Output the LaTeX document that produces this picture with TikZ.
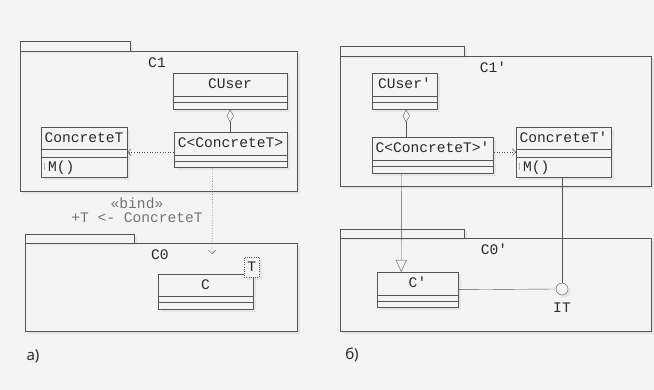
\documentclass[tikz,border=0pt]{standalone}
\usepackage{fontspec}
\setmainfont{Noto Sans}
\setmonofont{Liberation Mono}
\usetikzlibrary{arrows.meta,shadows,positioning}
\definecolor{bg}{HTML}{F4F4F4}
\definecolor{ln}{HTML}{555555}
\definecolor{tx}{HTML}{2A2A2A}
\tikzset{
  shd/.style={drop shadow={shadow xshift=2.5pt,shadow yshift=-2.5pt,opacity=0.12}},
  pkg/.style={draw=ln,fill=bg,shd},
  pkgbox/.style={pkg,inner sep=0pt,anchor=north west},
  cls/.style={draw=ln,fill=bg,shd,inner sep=0pt,anchor=north west},
  lbl/.style={font=\fontsize{14.6}{16}\selectfont\ttfamily,text=tx,inner sep=0pt,text height=8.4pt,text depth=0pt},
  note/.style={lbl,text=black!55},
  dep/.style={draw=ln,dash pattern=on 1pt off 1.6pt,-{Straight Barb[length=3.5pt,width=7pt]}},
  agg/.style={draw=ln,{Diamond[open,fill=bg,length=13pt,width=7pt]}-},
  gen/.style={draw=ln,-{Triangle[open,fill=bg,length=12pt,width=11pt]}},
  tag/.style={font=\fontsize{15}{17}\selectfont,text=tx,inner sep=0pt}
}
\newcommand{\umlclass}[9][]{%
  \node[cls,minimum width={#5-#3},minimum height={#6-#4},#1] (#2) at (#3,#4) {};
  \draw[ln] (#3,#7) -- (#5,#7) (#3,#8) -- (#5,#8);
  \node[lbl] (#2-name) at ({(#3+#5)/2},{(#4+#7)/2}) {#9};
}
\begin{document}
\begin{tikzpicture}[x=1pt,y=-1pt]
\useasboundingbox[fill=bg] (0,0) rectangle (654,390);

% a)
\node[pkgbox,minimum width=277,minimum height=140] (p1) at (20,51) {};
\draw[pkg] (p1.north west) rectangle ++(110,-10);
\node[lbl] (p1-name) at (157,63) {C1};
\umlclass{cuser}{173}{73}{287}{109}{96}{102}{CUser}
\umlclass[line width=1pt]{cc}{174}{132}{287}{167}{155}{161}{C<ConcreteT>}
\umlclass{ct}{41}{127}{127}{177}{149}{157}{ConcreteT}
\draw[black!30] (44,163) -- (44,170);
\node[lbl,anchor=west] (ct-op) at (48,167) {M()};
\draw[agg] (cuser.south) -- (cuser.south |- cc.north);
\draw[dep] (cc.west |- ct.east) -- (ct.east);
\node[pkgbox,minimum width=272,minimum height=88] (p0) at (25,243) {};
\draw[pkg] (p0.north west) rectangle ++(109,-9);
\node[lbl] (p0-name) at (160,255) {C0};
\umlclass{c}{158}{274}{253}{309}{296}{302}{C}
\node[cls,fill=bg,draw=ln,dash pattern=on 1pt off 1.2pt,minimum width=15,minimum height=20] (tp) at (244,257) {};
\node[lbl] (tp-name) at (tp) {T};
\coordinate (bindend) at (212,254);
\draw[dep] ([xshift=-18.5pt]cc.south) -- (bindend);
\node[note] (bind) at (137,204) {«bind»};
\node[note] (bindarg) at (137,218) {+T <- ConcreteT};
\node[tag] (ta) at (33,356) {a)};

% b)
\node[pkgbox,minimum width=311,minimum height=130] (q1) at (340,56) {};
\draw[pkg] (q1.north west) rectangle ++(124,-10);
\node[lbl] (q1-name) at (493,68) {C1'};
\umlclass{cuser2}{372}{73}{437}{109}{96}{102}{CUser'}
\umlclass[line width=1pt]{cc2}{372}{137}{493}{173}{160}{166}{C<ConcreteT>'}
\umlclass{ct2}{516}{127}{611}{177}{149}{157}{ConcreteT'}
\draw[black!30] (519,163) -- (519,170);
\node[lbl,anchor=west] (ct2-op) at (523,167) {M()};
\draw[agg] ([xshift=1.5pt]cuser2.south) -- ([xshift=1.5pt]cuser2.south |- cc2.north);
\draw[dep] (cc2.east |- ct2.west) -- (ct2.west);
\node[pkgbox,minimum width=311,minimum height=93] (q0) at (340,238) {};
\draw[pkg] (q0.north west) rectangle ++(124,-9);
\node[lbl] (q0-name) at (494,250) {C0'};
\umlclass{c2}{377}{272}{458}{307}{295}{301}{C'}
\node[circle,draw=ln,fill=bg,shd,minimum size=12pt,inner sep=0pt] (it) at (562,289) {};
\node[lbl] (it-name) at (562,308) {IT};
\draw[gen] ([xshift=-31.5pt]cc2.south) -- ([xshift=-16.5pt]c2.north);
\draw[ln] (ct2.south -| it.north) -- (it.north);
\draw[ln] (c2.east) -- (it.west);
\node[tag] (tb) at (352,355) {б)};
\end{tikzpicture}
\end{document}
